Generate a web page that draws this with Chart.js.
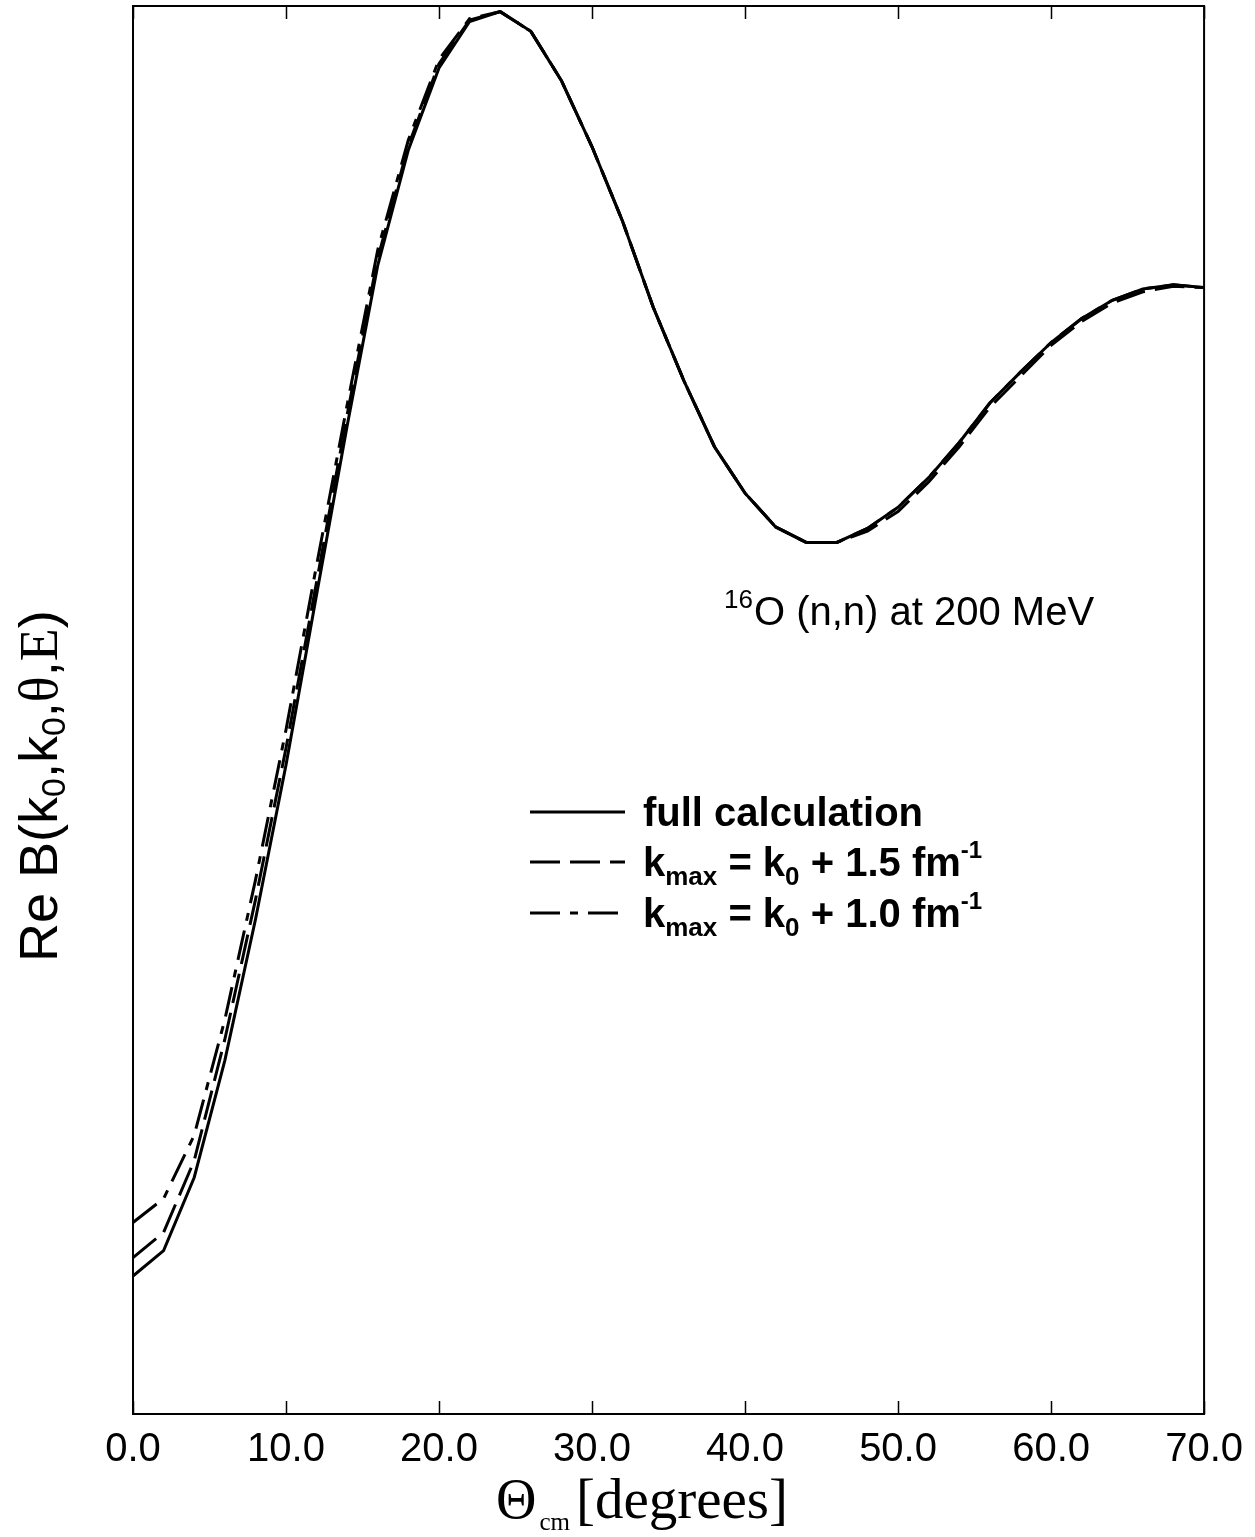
<!DOCTYPE html>
<html>
<head>
<meta charset="utf-8">
<title>Re B vs theta_cm</title>
<script src="https://cdn.jsdelivr.net/npm/chart.js@4"></script>
<style>
  html, body { margin: 0; padding: 0; background: #fff; }
  #wrap { width: 1255px; height: 1537px; }
</style>
</head>
<body>
<div id="wrap"><canvas id="chart" width="1255" height="1537"></canvas></div>
<script>
// scattering angle in degrees (points every 2 degrees)
const angles = [0, 2, 4, 6, 8, 10, 12, 14, 16, 18, 20, 22, 24, 26, 28, 30, 32, 34,
  36, 38, 40, 42, 44, 46, 48, 50, 52, 54, 56, 58, 60, 62, 64, 66, 68, 70];

// Re B, arbitrary units (the y axis carries no scale in the original)
const fullCalc = [0.098, 0.116, 0.168, 0.251, 0.351, 0.461, 0.582, 0.702, 0.816, 0.898,
  0.956, 0.989, 0.996, 0.982, 0.947, 0.900, 0.847, 0.786, 0.734, 0.687, 0.654, 0.630,
  0.619, 0.619, 0.629, 0.644, 0.665, 0.690, 0.718, 0.740, 0.761, 0.778, 0.791, 0.799,
  0.802, 0.800];
const kmax15 = [0.111, 0.129, 0.180, 0.266, 0.365, 0.473, 0.591, 0.710, 0.821, 0.901,
  0.959, 0.990, 0.996, 0.982, 0.947, 0.900, 0.847, 0.786, 0.734, 0.687, 0.654, 0.630,
  0.619, 0.619, 0.627, 0.641, 0.662, 0.687, 0.715, 0.737, 0.759, 0.776, 0.789, 0.797,
  0.801, 0.800];
const kmax10 = [0.136, 0.153, 0.198, 0.280, 0.379, 0.486, 0.603, 0.717, 0.827, 0.905,
  0.962, 0.991, 0.996, 0.982, 0.947, 0.900, 0.847, 0.786, 0.734, 0.687, 0.654, 0.630,
  0.619, 0.619, 0.629, 0.644, 0.665, 0.690, 0.718, 0.740, 0.761, 0.778, 0.791, 0.799,
  0.802, 0.800];

const xTicks = [0, 10, 20, 30, 40, 50, 60, 70];

const dashStyles = [[], [30, 10], [30, 10, 8, 10]];

function toPoints(ys) {
  return angles.map((a, i) => ({ x: a, y: ys[i] }));
}

// draw a run of text pieces; each piece: [text, font, dy]
function drawRun(ctx, x, y, pieces) {
  for (const [txt, font, dy] of pieces) {
    ctx.font = font;
    ctx.fillText(txt, x, y + dy);
    x += ctx.measureText(txt).width;
  }
  return x;
}

const framePlugin = {
  id: 'frame',
  afterDatasetsDraw(chart) {
    const ctx = chart.ctx;
    const a = chart.chartArea;
    const xs = chart.scales.x;
    ctx.save();
    ctx.strokeStyle = '#000';
    ctx.lineWidth = 2;
    ctx.strokeRect(a.left, a.top, a.right - a.left, a.bottom - a.top);
    // inward ticks on bottom and top
    ctx.beginPath();
    for (const t of xTicks) {
      const px = Math.round(xs.getPixelForValue(t)) + 0.5;
      ctx.moveTo(px, a.bottom);
      ctx.lineTo(px, a.bottom - 13);
      ctx.moveTo(px, a.top);
      ctx.lineTo(px, a.top + 13);
    }
    ctx.lineWidth = 1.5;
    ctx.stroke();
    ctx.restore();
  },
  afterDraw(chart) {
    const ctx = chart.ctx;
    ctx.save();
    ctx.fillStyle = '#000';
    ctx.textBaseline = 'alphabetic';
    ctx.textAlign = 'left';

    // x axis title
    let x = drawRun(ctx, 496, 1518, [['\u0398', '56px "Liberation Serif"', 0]]);
    x = drawRun(ctx, x + 3, 1518, [['cm', '25px "Liberation Serif"', 12]]);
    drawRun(ctx, x + 6, 1518, [['[degrees]', '57px "Liberation Serif"', 0]]);

    // y axis title, rotated
    ctx.save();
    ctx.translate(57, 962);
    ctx.rotate(-Math.PI / 2);
    const sans = '54px "Liberation Sans"';
    const sub = '34px "Liberation Sans"';
    const serif = '54px "Liberation Serif"';
    drawRun(ctx, 0, 0, [
      ['Re B(k', sans, 0], ['0', sub, 8], [',k', sans, 0], ['0', sub, 8],
      [',', sans, 0], ['\u03b8', serif, 0], [',', sans, 0], ['E', serif, 0], [')', sans, 0]
    ]);
    ctx.restore();

    // reaction annotation
    x = drawRun(ctx, 724, 608, [['16', '26px "Liberation Sans"', 0]]);
    drawRun(ctx, x + 1, 625, [['O (n,n) at 200 MeV', '40px "Liberation Sans"', 0]]);

    // legend
    const labels = [
      [['full calculation', 'bold 40px "Liberation Sans"', 0]],
      [['k', 'bold 40px "Liberation Sans"', 0], ['max', 'bold 26px "Liberation Sans"', 9],
       [' = k', 'bold 40px "Liberation Sans"', 0], ['0', 'bold 26px "Liberation Sans"', 9],
       [' + 1.5 fm', 'bold 40px "Liberation Sans"', 0], ['-1', 'bold 24px "Liberation Sans"', -18]],
      [['k', 'bold 40px "Liberation Sans"', 0], ['max', 'bold 26px "Liberation Sans"', 9],
       [' = k', 'bold 40px "Liberation Sans"', 0], ['0', 'bold 26px "Liberation Sans"', 9],
       [' + 1.0 fm', 'bold 40px "Liberation Sans"', 0], ['-1', 'bold 24px "Liberation Sans"', -18]]
    ];
    const rowY = [812, 862, 913];
    chart.data.datasets.forEach((ds, i) => {
      ctx.save();
      ctx.strokeStyle = ds.borderColor;
      ctx.lineWidth = ds.borderWidth;
      ctx.setLineDash(ds.borderDash);
      ctx.beginPath();
      ctx.moveTo(530, rowY[i]);
      ctx.lineTo(625, rowY[i]);
      ctx.stroke();
      ctx.restore();
      drawRun(ctx, 643, rowY[i] + 14, labels[i]);
    });
    ctx.restore();
  }
};

new Chart(document.getElementById('chart'), {
  type: 'line',
  data: {
    datasets: [
      { label: 'full calculation', data: toPoints(fullCalc), borderDash: dashStyles[0] },
      { label: 'kmax = k0 + 1.5 fm-1', data: toPoints(kmax15), borderDash: dashStyles[1] },
      { label: 'kmax = k0 + 1.0 fm-1', data: toPoints(kmax10), borderDash: dashStyles[2] }
    ].map(d => Object.assign(d, {
      borderColor: '#000',
      borderWidth: 3,
      pointRadius: 0,
      tension: 0,
      fill: false
    }))
  },
  options: {
    responsive: false,
    animation: false,
    events: [],
    layout: { padding: { left: 133, right: 42, top: 6, bottom: 0 } },
    plugins: { legend: { display: false }, tooltip: { enabled: false } },
    scales: {
      x: {
        type: 'linear',
        min: 0,
        max: 70,
        afterFit(scale) { scale.height = 123; },
        afterBuildTicks(scale) { scale.ticks = xTicks.map(v => ({ value: v })); },
        grid: { display: false, drawTicks: false },
        border: { display: false },
        ticks: {
          padding: 12,
          color: '#000',
          font: { family: '"Liberation Sans"', size: 40 },
          maxRotation: 0,
          autoSkip: false,
          callback: v => v.toFixed(1)
        }
      },
      y: {
        display: false,
        min: 0,
        max: 1
      }
    }
  },
  plugins: [framePlugin]
});
</script>
</body>
</html>
